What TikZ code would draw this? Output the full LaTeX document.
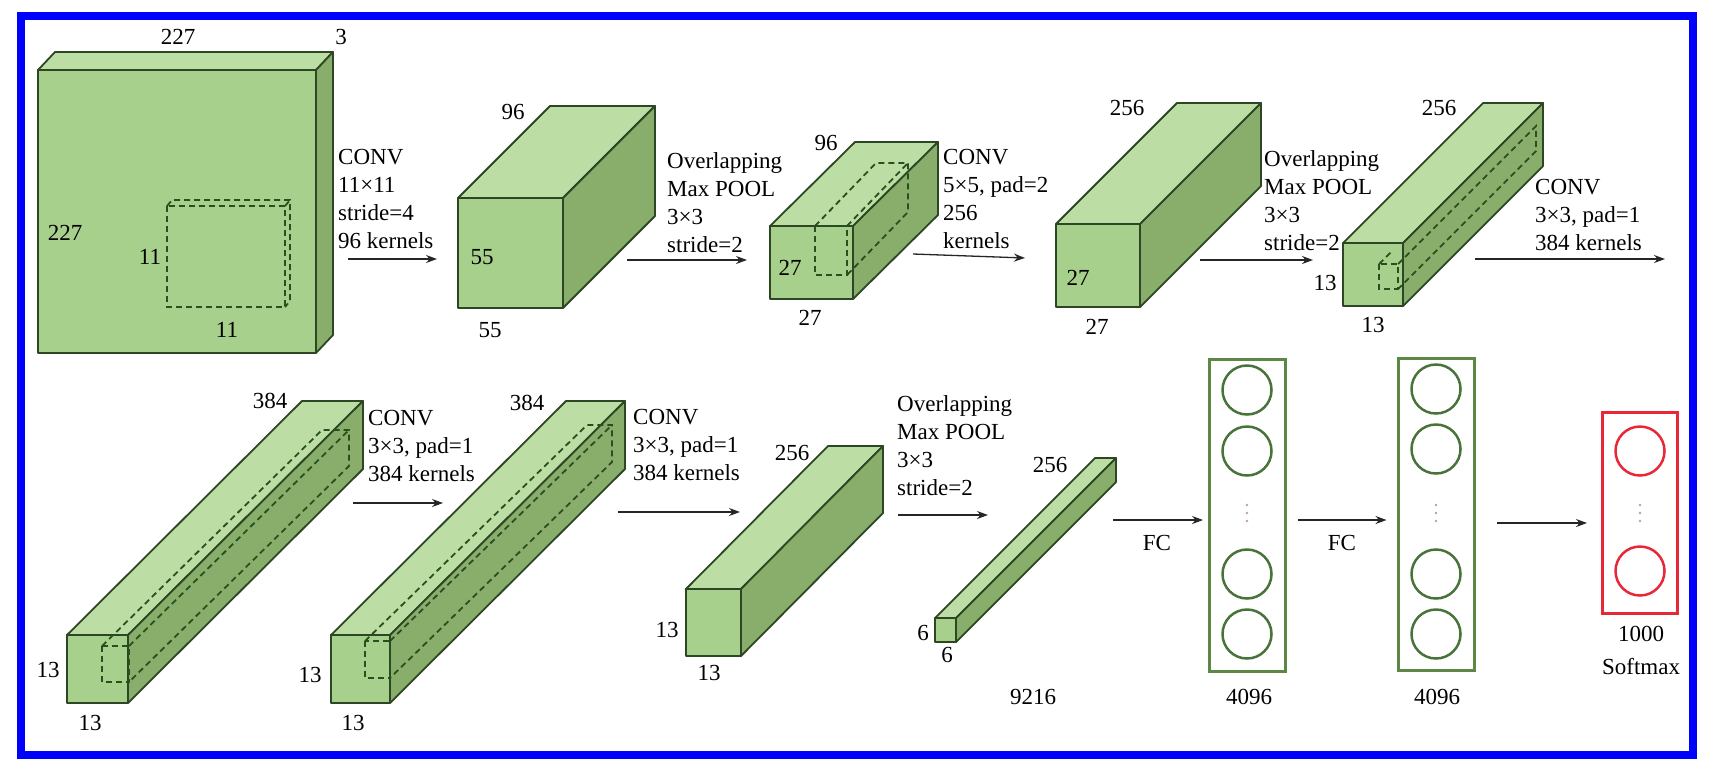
\documentclass[tikz,border=0pt]{standalone}
\usepackage{fontspec}
\setmainfont{Liberation Serif}
\usetikzlibrary{arrows.meta}
\definecolor{frontc}{RGB}{168,208,141}
\definecolor{topc}{RGB}{188,222,165}
\definecolor{sidec}{RGB}{137,174,108}
\definecolor{edgec}{RGB}{45,70,35}
\definecolor{dashc}{RGB}{40,80,30}
\definecolor{fcgreen}{RGB}{92,135,68}
\definecolor{neurong}{RGB}{72,115,58}
\definecolor{softred}{RGB}{232,40,55}
\definecolor{framec}{RGB}{0,0,255}
\definecolor{dotc}{RGB}{185,160,170}
\tikzset{
  frontf/.style={fill=frontc, draw=edgec, line width=1.8pt, line join=round},
  topf/.style={fill=topc, draw=edgec, line width=1.8pt, line join=round},
  sidef/.style={fill=sidec, draw=edgec, line width=1.8pt, line join=round},
  kern/.style={draw=dashc, line width=1.8pt, dash pattern=on 6pt off 4pt},
  arr/.style={-{Stealth[length=11pt,width=8pt]}, line width=1.3pt, black!85},
  lbl/.style={align=left, inner sep=0pt, anchor=north west},
  fcbox/.style={draw=fcgreen, line width=3pt, minimum width=76pt, minimum height=312pt, inner sep=0pt},
  smbox/.style={draw=softred, line width=3pt, minimum width=75pt, minimum height=201pt, inner sep=0pt},
  neuron/.style={circle, draw=neurong, line width=2.5pt, minimum size=49pt, inner sep=0pt},
  rneuron/.style={circle, draw=softred, line width=2.5pt, minimum size=49pt, inner sep=0pt},
  vdot/.style={circle, fill=dotc, minimum size=2.6pt, inner sep=0pt},
  every node/.style={font=\fontsize{23}{28}\selectfont}
}
% x y w h dx dy
\newcommand{\cubeblk}[6]{%
  \filldraw[frontf] (#1,#2) rectangle ++(#3,#4);
  \filldraw[topf] (#1,#2) -- ++(#5,#6) -- ++(#3,0) -- ++({-(#5)},{-(#6)}) -- cycle;
  \filldraw[sidef] ({#1+#3},#2) -- ++(#5,#6) -- ++(0,#4) -- ++({-(#5)},{-(#6)}) -- cycle;}
\newcommand{\kernblk}[6]{%
  \draw[kern] (#1,#2) rectangle ++(#3,#4);
  \draw[kern] (#1,#2) -- ++(#5,#6) -- ++(#3,0) -- ++(0,#4) -- ++({-(#5)},{-(#6)});
  \draw[kern] ({#1+#3},#2) -- ++(#5,#6);}
\begin{document}
\begin{tikzpicture}[x=1pt,y=-1pt]
\useasboundingbox (0,0) rectangle (1715,772);
\fill[white] (0,0) rectangle (1715,772);
\draw[line width=7.5pt, framec] (21,16) rectangle (1693,755);

% ---------- row 1 ----------
\cubeblk{38}{70}{278}{283}{17}{-18}
\kernblk{167}{206}{118}{101}{5}{-6}
\node (r1a) at (178,37) {227};
\node (r1b) at (341,37) {3};
\node (r1c) at (65,233) {227};
\node (r1d) at (150,257) {11};
\node (r1e) at (227,330) {11};
\node[lbl] (t1) at (338,149) {CONV\\11×11\\stride=4\\96 kernels};
\coordinate (a1s) at (348,259);
\coordinate (a1e) at (437,259);
\draw[arr] (a1s) -- (a1e);

\cubeblk{458}{198}{105}{110}{92}{-92}
\node (r2a) at (513,112) {96};
\node (r2b) at (482,257) {55};
\node (r2c) at (490,330) {55};
\node[lbl] (t2) at (667,152) {Overlapping\\Max POOL\\3×3\\stride=2};
\coordinate (a2s) at (627,260);
\coordinate (a2e) at (747,260);
\draw[arr] (a2s) -- (a2e);

\cubeblk{770}{226}{83}{73}{85}{-84}
\kernblk{815}{226}{32}{49}{61}{-63}
\node (r3a) at (826,143) {96};
\node (r3b) at (790,268) {27};
\node (r3c) at (810,318) {27};
\node[lbl] (t3) at (943,149) {CONV\\5×5, pad=2\\256\\kernels};
\coordinate (a3s) at (913,254);
\coordinate (a3e) at (1025,258);
\draw[arr] (a3s) -- (a3e);

\cubeblk{1056}{224}{84}{83}{121}{-121}
\node (r4a) at (1127,108) {256};
\node (r4b) at (1078,278) {27};
\node (r4c) at (1097,327) {27};
\node[lbl] (t4) at (1264,150) {Overlapping\\Max POOL\\3×3\\stride=2};
\coordinate (a4s) at (1200,260);
\coordinate (a4e) at (1313,260);
\draw[arr] (a4s) -- (a4e);

\cubeblk{1343}{243}{60}{63}{140}{-140}
\draw[kern] (1379,264) rectangle (1398,289);
\draw[kern] (1398,264) -- ++(138,-138) -- ++(0,25) -- (1398,289);
\draw[kern] (1379,264) -- ++(14,-14);
\node (r5a) at (1439,108) {256};
\node (r5b) at (1325,283) {13};
\node (r5c) at (1373,325) {13};
\node[lbl] (t5) at (1535,179) {CONV\\3×3, pad=1\\384 kernels};
\coordinate (a5s) at (1475,259);
\coordinate (a5e) at (1665,259);
\draw[arr] (a5s) -- (a5e);

% ---------- row 2 ----------
\cubeblk{67}{635}{61}{68}{235}{-234}
\kernblk{102}{646}{27}{36}{220}{-216}
\node (s1a) at (270,401) {384};
\node (s1b) at (48,670) {13};
\node (s1c) at (90,723) {13};
\node[lbl] (u1) at (368,410) {CONV\\3×3, pad=1\\384 kernels};
\coordinate (b1s) at (353,503);
\coordinate (b1e) at (443,503);
\draw[arr] (b1s) -- (b1e);

\cubeblk{331}{635}{59}{68}{235}{-234}
\kernblk{365}{641}{25}{37}{222}{-216}
\node (s2a) at (527,403) {384};
\node (s2b) at (310,675) {13};
\node (s2c) at (353,723) {13};
\node[lbl] (u2) at (633,409) {CONV\\3×3, pad=1\\384 kernels};
\coordinate (b2s) at (618,512);
\coordinate (b2e) at (740,512);
\draw[arr] (b2s) -- (b2e);

\cubeblk{686}{589}{55}{67}{142}{-143}
\node (s3a) at (792,453) {256};
\node (s3b) at (667,630) {13};
\node (s3c) at (709,673) {13};
\node[lbl] (u3) at (897,395) {Overlapping\\Max POOL\\3×3\\stride=2};
\coordinate (b3s) at (898,515);
\coordinate (b3e) at (988,515);
\draw[arr] (b3s) -- (b3e);

\cubeblk{935}{618}{21}{24}{160}{-160}
\node (s4a) at (1050,465) {256};
\node (s4b) at (923,633) {6};
\node (s4c) at (947,655) {6};
\node (s4d) at (1033,697) {9216};

% fully connected layers
\node[fcbox] (fc1) at (1247.5,515.5) {};
\node[neuron] (n11) at (1247,390) {};
\node[neuron] (n12) at (1247,451) {};
\node[neuron] (n13) at (1247,574) {};
\node[neuron] (n14) at (1247,634) {};
\node[vdot] (d11) at (1247,505) {};
\node[vdot] (d12) at (1247,513) {};
\node[vdot] (d13) at (1247,521) {};
\node (s5a) at (1249,697) {4096};

\node[fcbox] (fc2) at (1436,514.5) {};
\node[neuron] (n21) at (1436,389) {};
\node[neuron] (n22) at (1436,449) {};
\node[neuron] (n23) at (1436,574) {};
\node[neuron] (n24) at (1436,634) {};
\node[vdot] (d21) at (1436,505) {};
\node[vdot] (d22) at (1436,513) {};
\node[vdot] (d23) at (1436,521) {};
\node (s6a) at (1437,697) {4096};

\node[smbox] (sm) at (1640,513) {};
\node[rneuron] (n31) at (1640,451) {};
\node[rneuron] (n32) at (1640,571) {};
\node[vdot] (d31) at (1640,505) {};
\node[vdot] (d32) at (1640,513) {};
\node[vdot] (d33) at (1640,521) {};
\node (s7a) at (1641,634) {1000};
\node (s7b) at (1641,667) {Softmax};

\coordinate (c1s) at (1113,520);
\draw[arr] (c1s) -- ([xshift=-5pt]c1s -| fc1.west);
\node (fcl1) at (1157,543) {FC};
\coordinate (c2s) at (1298,520);
\draw[arr] (c2s) -- ([xshift=-10pt]c2s -| fc2.west);
\node (fcl2) at (1342,543) {FC};
\coordinate (c3s) at (1497,523);
\draw[arr] (c3s) -- ([xshift=-14pt]c3s -| sm.west);
\end{tikzpicture}
\end{document}
